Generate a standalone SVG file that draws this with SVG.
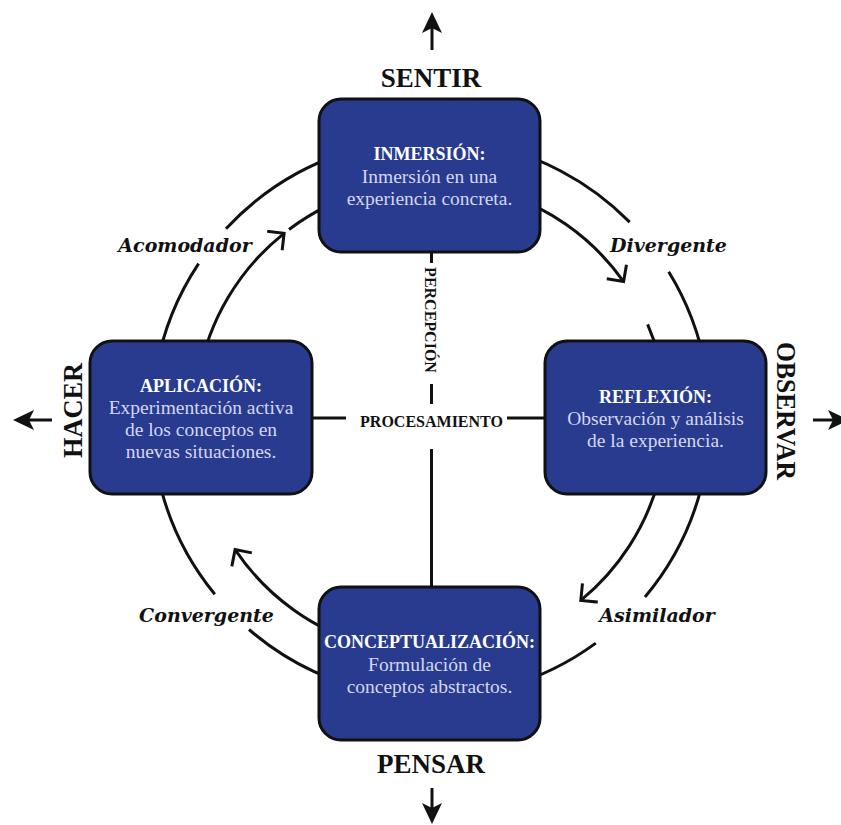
<svg xmlns="http://www.w3.org/2000/svg" width="841" height="825" viewBox="0 0 841 825">
<style>
.ln{fill:none;stroke:#111;stroke-width:3}
.box{fill:#283b8f;stroke:#111;stroke-width:3}
.ttl{font-family:"Liberation Serif",serif;font-weight:bold;font-size:18px;fill:#ffffff;text-anchor:middle}
.body{font-family:"Liberation Serif",serif;font-size:19.5px;fill:#d4d7f2;text-anchor:middle}
.dir{font-family:"Liberation Serif",serif;font-weight:bold;font-size:27px;fill:#111;text-anchor:middle}
.ax{font-family:"Liberation Serif",serif;font-weight:bold;font-size:16px;fill:#111;text-anchor:middle}
.sty{font-family:"DejaVu Serif",serif;font-weight:bold;font-style:italic;font-size:19px;fill:#111;text-anchor:middle}
.head{fill:#111}
</style>
<defs>
<marker id="chev" markerUnits="userSpaceOnUse" markerWidth="30" markerHeight="30" refX="0" refY="0" viewBox="-15 -15 30 30" orient="auto" overflow="visible">
<path d="M-11,-11 L0,0 L-11,11" fill="none" stroke="#111" stroke-width="3" stroke-linecap="square"/>
</marker>
<path id="bighead" d="M0,0 L-21,-10 L-16,0 L-21,10 Z"/>
</defs>
<g id="connectors">
<!-- outer circle segments -->
<path class="ln" d="M156.2,369.6 A279,279 0 0 1 198.6,263.6"/>
<path class="ln" d="M226.0,228.8 A279,279 0 0 1 382.6,143.2"/>
<path class="ln" d="M479.5,143.2 A279,279 0 0 1 629.7,222.1"/>
<path class="ln" d="M668.7,271.8 A279,279 0 0 1 705.8,369.6"/>
<path class="ln" d="M705.8,466.5 A279,279 0 0 1 645.0,597.0"/>
<path class="ln" d="M595.8,643.1 A279,279 0 0 1 479.5,692.8"/>
<path class="ln" d="M382.6,692.8 A279,279 0 0 1 249.0,629.5"/>
<path class="ln" d="M214.8,594.3 A279,279 0 0 1 156.2,466.5"/>
<!-- inner circle segments -->
<path class="ln" d="M198.6,377.0 A236,236 0 0 1 284.1,233.3" marker-end="url(#chev)"/>
<path class="ln" d="M289.0,229.5 A236,236 0 0 1 369.9,190.0"/>
<path class="ln" d="M492.1,190.0 A236,236 0 0 1 623.6,281.6" marker-end="url(#chev)"/>
<path class="ln" d="M647.6,324.3 A236,236 0 0 1 659.0,356.9"/>
<path class="ln" d="M659.0,479.1 A236,236 0 0 1 580.8,600.4" marker-end="url(#chev)"/>
<path class="ln" d="M369.9,646.0 A236,236 0 0 1 235.1,549.6" marker-end="url(#chev)"/>
<!-- axes -->
<path class="ln" d="M312,418 H346 M507,418 H545"/>
<path class="ln" d="M431.5,252 V263 M431.5,384 V404 M431.5,449 V587"/>
<!-- outer direction arrows -->
<path class="ln" d="M432,50 V28"/>
<use href="#bighead" class="head" transform="translate(432,12) rotate(-90)"/>
<path class="ln" d="M52,420 H28"/>
<use href="#bighead" class="head" transform="translate(13,420) rotate(180)"/>
<path class="ln" d="M813,420 H834"/>
<use href="#bighead" class="head" transform="translate(849,420)"/>
<path class="ln" d="M432,788 V808"/>
<use href="#bighead" class="head" transform="translate(432,824) rotate(90)"/>
</g>
<g id="inmersion">
<rect class="box" x="319" y="99" width="221" height="153" rx="22"/>
<text class="ttl" x="429.5" y="159.5">INMERSIÓN:</text>
<text class="body" x="429.5" y="182.5">Inmersión en una</text>
<text class="body" x="429.5" y="204.5">experiencia concreta.</text>
</g>
<g id="reflexion">
<rect class="box" x="545" y="341" width="221" height="153" rx="22"/>
<text class="ttl" x="655.5" y="403">REFLEXIÓN:</text>
<text class="body" x="655.5" y="425">Observación y análisis</text>
<text class="body" x="655.5" y="447">de la experiencia.</text>
</g>
<g id="aplicacion">
<rect class="box" x="90" y="341" width="222" height="153" rx="22"/>
<text class="ttl" x="201" y="392">APLICACIÓN:</text>
<text class="body" x="201" y="414">Experimentación activa</text>
<text class="body" x="201" y="436">de los conceptos en</text>
<text class="body" x="201" y="458">nuevas situaciones.</text>
</g>
<g id="conceptualizacion">
<rect class="box" x="319" y="587" width="221" height="153" rx="22"/>
<text class="ttl" x="429.5" y="648">CONCEPTUALIZACIÓN:</text>
<text class="body" x="429.5" y="671">Formulación de</text>
<text class="body" x="429.5" y="693">conceptos abstractos.</text>
</g>
<g id="labels">
<text class="dir" x="431" y="87">SENTIR</text>
<text class="dir" x="431" y="773">PENSAR</text>
<text class="dir" transform="translate(82,410.5) rotate(-90)" textLength="95" lengthAdjust="spacingAndGlyphs">HACER</text>
<text class="dir" transform="translate(777,411) rotate(90)" textLength="138" lengthAdjust="spacingAndGlyphs">OBSERVAR</text>
<text class="ax" x="431.5" y="427">PROCESAMIENTO</text>
<text class="ax" transform="translate(425,320) rotate(90)">PERCEPCIÓN</text>
<text class="sty" x="185" y="252">Acomodador</text>
<text class="sty" x="668.5" y="252">Divergente</text>
<text class="sty" x="657" y="622">Asimilador</text>
<text class="sty" x="206.5" y="622">Convergente</text>
</g>
</svg>
